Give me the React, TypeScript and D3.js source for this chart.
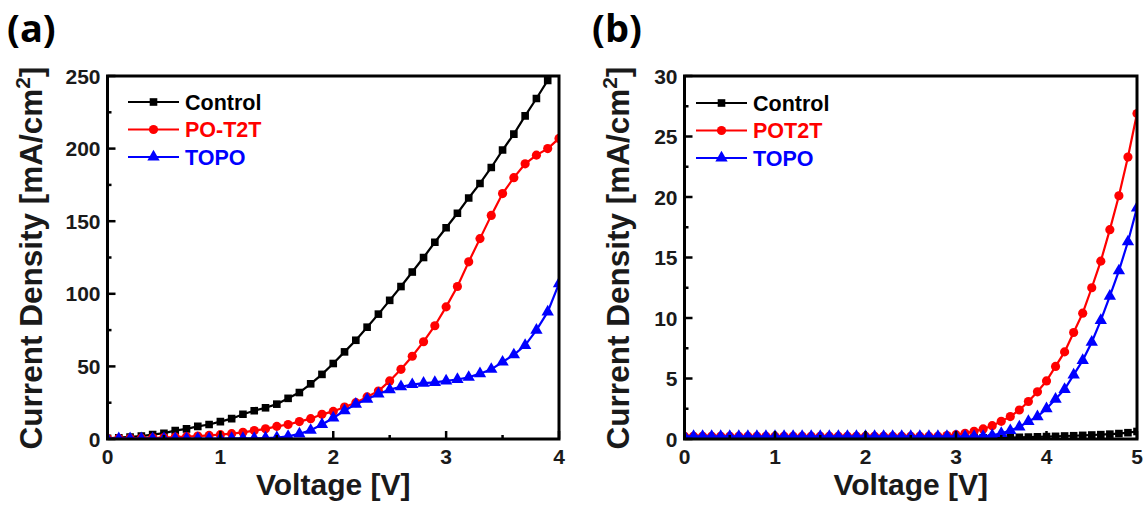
import React from 'react';
import * as d3 from 'd3';

// ---- J–V data, panel (a): 0–4 V in 0.1 V steps ----
const voltageA = [
  0.0, 0.1, 0.2, 0.3, 0.4, 0.5, 0.6, 0.7, 0.8, 0.9,
  1.0, 1.1, 1.2, 1.3, 1.4, 1.5, 1.6, 1.7, 1.8, 1.9,
  2.0, 2.1, 2.2, 2.3, 2.4, 2.5, 2.6, 2.7, 2.8, 2.9,
  3.0, 3.1, 3.2, 3.3, 3.4, 3.5, 3.6, 3.7, 3.8, 3.9, 4.0,
];
const controlA = [
  0.5, 0.9, 1.4, 2, 3, 4, 5.8, 7, 8.7, 10,
  12, 14, 17, 19.5, 21.5, 24, 28, 32, 38, 44.5,
  52, 60, 68, 77, 86, 95.5, 105, 115, 125, 135.5,
  145.5, 155.5, 166, 176, 187, 199, 210, 222.5, 234.5, 247, 260,
];
const poT2TA = [
  0.3, 0.4, 0.5, 0.6, 0.8, 1, 1.3, 1.6, 2, 2.5,
  3, 3.7, 4.6, 5.8, 7, 8.7, 10, 12, 14, 17,
  19, 22, 25, 29, 33, 40, 48, 57, 67, 78,
  91, 105, 122, 138, 154, 169, 180, 189.5, 195.5, 200, 207,
];
const topoA = [
  0.2, 0.2, 0.2, 0.2, 0.2, 0.2, 0.2, 0.3, 0.3, 0.3,
  0.3, 0.4, 0.4, 0.5, 0.7, 1.0, 1.8, 3.5, 6, 10,
  14.5, 19.5, 24, 27.5, 31, 34, 36, 37.5, 38.5, 39,
  40, 41, 42.5, 45, 48, 53, 58, 64.5, 75, 87.5, 107,
];

// ---- J–V data, panel (b): 0–5 V in 0.1 V steps ----
const voltageB = [
  0.0, 0.1, 0.2, 0.3, 0.4, 0.5, 0.6, 0.7, 0.8, 0.9,
  1.0, 1.1, 1.2, 1.3, 1.4, 1.5, 1.6, 1.7, 1.8, 1.9,
  2.0, 2.1, 2.2, 2.3, 2.4, 2.5, 2.6, 2.7, 2.8, 2.9,
  3.0, 3.1, 3.2, 3.3, 3.4, 3.5, 3.6, 3.7, 3.8, 3.9,
  4.0, 4.1, 4.2, 4.3, 4.4, 4.5, 4.6, 4.7, 4.8, 4.9, 5.0,
];
const controlB = [
  0.1, 0.1, 0.1, 0.1, 0.1, 0.1, 0.1, 0.1, 0.1, 0.1,
  0.1, 0.1, 0.1, 0.1, 0.1, 0.1, 0.1, 0.1, 0.1, 0.1,
  0.1, 0.1, 0.1, 0.1, 0.1, 0.1, 0.1, 0.1, 0.1, 0.1,
  0.1, 0.1, 0.1, 0.1, 0.1, 0.1, 0.12, 0.14, 0.16, 0.18,
  0.2, 0.22, 0.25, 0.27, 0.3, 0.33, 0.36, 0.4, 0.45, 0.52, 0.62,
];
const poT2TB = [
  0.22, 0.22, 0.22, 0.22, 0.22, 0.22, 0.22, 0.22, 0.22, 0.22,
  0.22, 0.22, 0.22, 0.22, 0.22, 0.22, 0.22, 0.22, 0.22, 0.22,
  0.22, 0.22, 0.22, 0.22, 0.22, 0.22, 0.22, 0.22, 0.22, 0.28,
  0.36, 0.47, 0.64, 0.83, 1.1, 1.46, 1.85, 2.4, 3.1, 3.9,
  4.8, 6.0, 7.2, 8.8, 10.4, 12.5, 14.7, 17.3, 20.1, 23.3, 26.9,
];
const topoB = [
  0.22, 0.22, 0.22, 0.22, 0.22, 0.22, 0.22, 0.22, 0.22, 0.22,
  0.22, 0.22, 0.22, 0.22, 0.22, 0.22, 0.22, 0.22, 0.22, 0.22,
  0.22, 0.22, 0.22, 0.22, 0.22, 0.22, 0.22, 0.22, 0.22, 0.22,
  0.22, 0.22, 0.22, 0.22, 0.3, 0.47, 0.7, 1.0, 1.46, 1.85,
  2.5, 3.3, 4.1, 5.3, 6.5, 8.0, 9.8, 11.8, 13.9, 16.3, 19.1,
];

// ---- axis ticks ----
const xTicksA = [0, 1, 2, 3, 4];
const xMinorA = [0.5, 1.5, 2.5, 3.5];
const yTicksA = [0, 50, 100, 150, 200, 250];
const yMinorA = [25, 75, 125, 175, 225];
const xTicksB = [0, 1, 2, 3, 4, 5];
const xMinorB = [0.5, 1.5, 2.5, 3.5, 4.5];
const yTicksB = [0, 5, 10, 15, 20, 25, 30];
const yMinorB = [2.5, 7.5, 12.5, 17.5, 22.5, 27.5];

const legendA = ['Control', 'PO-T2T', 'TOPO'];
const legendB = ['Control', 'POT2T', 'TOPO'];

const COLORS = ['#000000', '#ff0000', '#0000ff'];
const SYMBOLS = [d3.symbolSquare, d3.symbolCircle, d3.symbolTriangle];
const SYMBOL_SIZES = [58, 66, 66];
const FONT = "'Liberation Sans', Arial, sans-serif";

type Series = { name: string; xs: number[]; ys: number[] };

type PanelProps = {
  id: string;
  letter: string;
  left: number;
  right: number;
  top: number;
  bottom: number;
  xMax: number;
  yMax: number;
  xTicks: number[];
  xMinor: number[];
  yTicks: number[];
  yMinor: number[];
  series: Series[];
  letterX: number;
  yTitleX: number;
  legendX: number;
  legendY: number;
};

function Panel(p: PanelProps) {
  const x = d3.scaleLinear().domain([0, p.xMax]).range([p.left, p.right]);
  const y = d3.scaleLinear().domain([0, p.yMax]).range([p.bottom, p.top]);
  const clipId = `clip-${p.id}`;
  const cx = (p.left + p.right) / 2;
  const cy = 258;

  return (
    <g>
      <defs>
        <clipPath id={clipId}>
          <rect x={p.left} y={p.top} width={p.right - p.left} height={p.bottom - p.top} />
        </clipPath>
      </defs>

      <g clipPath={`url(#${clipId})`}>
        {p.series.map((s, i) => {
          const pts: [number, number][] = s.xs.map((v, k) => [v, s.ys[k]]);
          const line = d3
            .line<[number, number]>()
            .x((d) => x(d[0]))
            .y((d) => y(d[1]));
          const sym = d3.symbol().type(SYMBOLS[i]).size(SYMBOL_SIZES[i])();
          return (
            <g key={s.name}>
              <path d={line(pts) || ''} fill="none" stroke={COLORS[i]} strokeWidth={2.2} />
              {pts.map((d, k) => (
                <path
                  key={k}
                  d={sym || ''}
                  transform={`translate(${x(d[0])},${y(d[1])})`}
                  fill={COLORS[i]}
                />
              ))}
            </g>
          );
        })}
      </g>

      {/* inward ticks on bottom and left */}
      {p.xTicks.map((t) => (
        <line key={`xt${t}`} x1={x(t)} x2={x(t)} y1={p.bottom} y2={p.bottom - 8} stroke="#000" strokeWidth={2.5} />
      ))}
      {p.xMinor.map((t) => (
        <line key={`xm${t}`} x1={x(t)} x2={x(t)} y1={p.bottom} y2={p.bottom - 4} stroke="#000" strokeWidth={2.5} />
      ))}
      {p.yTicks.map((t) => (
        <line key={`yt${t}`} x1={p.left} x2={p.left + 8} y1={y(t)} y2={y(t)} stroke="#000" strokeWidth={2.5} />
      ))}
      {p.yMinor.map((t) => (
        <line key={`ym${t}`} x1={p.left} x2={p.left + 4} y1={y(t)} y2={y(t)} stroke="#000" strokeWidth={2.5} />
      ))}

      <rect
        x={p.left}
        y={p.top}
        width={p.right - p.left}
        height={p.bottom - p.top}
        fill="none"
        stroke="#000"
        strokeWidth={3}
      />

      {/* tick labels */}
      {p.xTicks.map((t) => (
        <text
          key={`xl${t}`}
          x={x(t)}
          y={p.bottom + 25}
          textAnchor="middle"
          fontFamily={FONT}
          fontWeight="bold"
          fontSize={21}
          fill="#1a1a1a"
        >
          {t}
        </text>
      ))}
      {p.yTicks.map((t) => (
        <text
          key={`yl${t}`}
          x={p.left - 7}
          y={y(t)}
          dy="0.36em"
          textAnchor="end"
          fontFamily={FONT}
          fontWeight="bold"
          fontSize={21}
          fill="#1a1a1a"
        >
          {t}
        </text>
      ))}

      {/* axis titles */}
      <text
        x={cx}
        y={495}
        textAnchor="middle"
        fontFamily={FONT}
        fontWeight="bold"
        fontSize={30}
        fill="#1a1a1a"
      >
        Voltage [V]
      </text>
      <text
        transform={`translate(${p.yTitleX},${cy}) rotate(-90)`}
        textAnchor="middle"
        fontFamily={FONT}
        fontWeight="bold"
        fontSize={31.5}
        fill="#1a1a1a"
      >
        Current Density [mA/cm
        <tspan fontSize={21} dy={-12}>2</tspan>
        <tspan dy={12}>]</tspan>
      </text>

      {/* legend */}
      {p.series.map((s, i) => {
        const ly = p.legendY + i * 27.5;
        const sym = d3.symbol().type(SYMBOLS[i]).size(SYMBOL_SIZES[i])();
        return (
          <g key={`lg${s.name}`}>
            <line x1={p.legendX} x2={p.legendX + 51} y1={ly} y2={ly} stroke={COLORS[i]} strokeWidth={2.2} />
            <path d={sym || ''} transform={`translate(${p.legendX + 25.5},${ly})`} fill={COLORS[i]} />
            <text
              x={p.legendX + 57}
              y={ly}
              dy="0.36em"
              fontFamily={FONT}
              fontWeight="bold"
              fontSize={21.5}
              fill={COLORS[i]}
            >
              {s.name}
            </text>
          </g>
        );
      })}

      {/* panel letter */}
      <text x={p.letterX} y={42} fontFamily="'Open Sans', sans-serif" fontWeight="bold" fontSize={38} fill="#000">
        {p.letter}
      </text>
    </g>
  );
}

export default function App() {
  const seriesA: Series[] = [
    { name: legendA[0], xs: voltageA, ys: controlA },
    { name: legendA[1], xs: voltageA, ys: poT2TA },
    { name: legendA[2], xs: voltageA, ys: topoA },
  ];
  const seriesB: Series[] = [
    { name: legendB[0], xs: voltageB, ys: controlB },
    { name: legendB[1], xs: voltageB, ys: poT2TB },
    { name: legendB[2], xs: voltageB, ys: topoB },
  ];

  return (
    <svg
      width={1143}
      height={508}
      style={{ position: 'absolute', left: 0, top: 0, background: '#fff' }}
    >
      <rect width={1143} height={508} fill="#fff" />
      <Panel
        id="a"
        letter="(a)"
        left={107.5}
        right={559}
        top={76}
        bottom={439}
        xMax={4}
        yMax={250}
        xTicks={xTicksA}
        xMinor={xMinorA}
        yTicks={yTicksA}
        yMinor={yMinorA}
        series={seriesA}
        letterX={7}
        yTitleX={42}
        legendX={128}
        legendY={102}
      />
      <Panel
        id="b"
        letter="(b)"
        left={684.5}
        right={1137}
        top={76}
        bottom={439}
        xMax={5}
        yMax={30}
        xTicks={xTicksB}
        xMinor={xMinorB}
        yTicks={yTicksB}
        yMinor={yMinorB}
        series={seriesB}
        letterX={592}
        yTitleX={629}
        legendX={696}
        legendY={103}
      />
    </svg>
  );
}
